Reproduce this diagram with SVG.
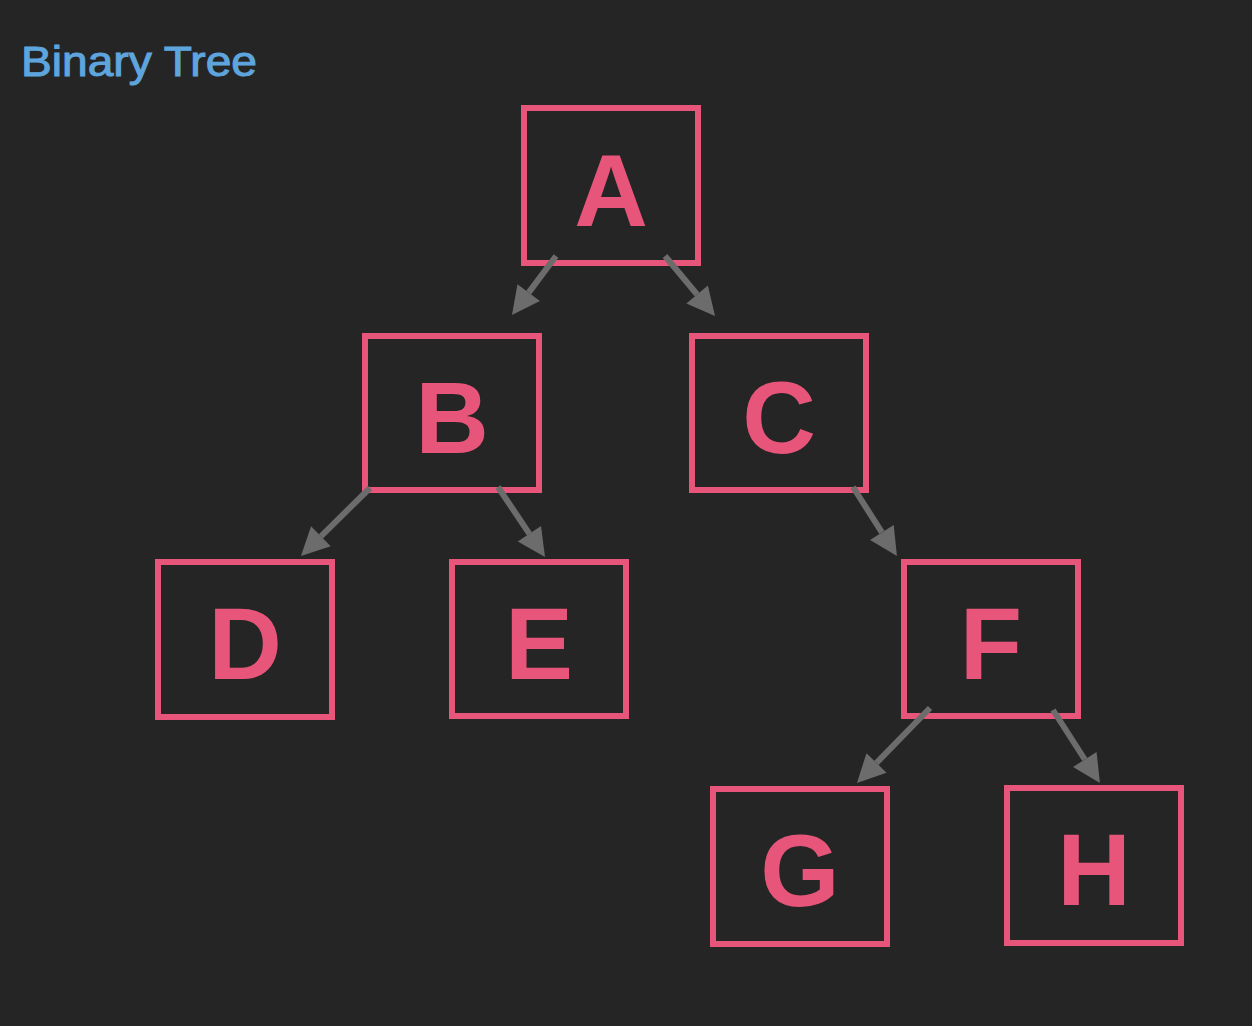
<svg xmlns="http://www.w3.org/2000/svg" width="1252" height="1026" viewBox="0 0 1252 1026">
<style>
.box{fill:#252525;stroke:#e8557a;stroke-width:6}
.lbl{font-family:"Liberation Sans",Arial,sans-serif;font-weight:bold;font-size:102px;fill:#e8557a;text-anchor:middle}
.edge{stroke:#6c6c6c;stroke-width:6;fill:none;marker-end:url(#ah)}
.title{font-family:"Liberation Sans",Arial,sans-serif;font-size:42px;fill:#5ea5de;stroke:#5ea5de;stroke-width:1}
</style>
<defs>
<marker id="ah" markerUnits="userSpaceOnUse" markerWidth="28" markerHeight="28" viewBox="0 0 28 28" refX="0" refY="14" orient="auto" overflow="visible">
<path d="M0,0 L28,14 L0,28 z" fill="#6c6c6c"/>
</marker>
</defs>
<rect width="1252" height="1026" fill="#252525"/>
<text class="title" x="21" y="76" textLength="236" lengthAdjust="spacingAndGlyphs">Binary Tree</text>
<g id="nodes">
<g id="A"><rect class="box" x="524" y="108" width="174" height="155"/><text class="lbl" x="611" y="226">A</text></g>
<g id="B"><rect class="box" x="365" y="336" width="174" height="154"/><text class="lbl" x="452" y="453">B</text></g>
<g id="C"><rect class="box" x="692" y="336" width="174" height="154"/><text class="lbl" x="779" y="453">C</text></g>
<g id="D"><rect class="box" x="158" y="562" width="174" height="155"/><text class="lbl" x="245" y="679">D</text></g>
<g id="E"><rect class="box" x="452" y="562" width="174" height="154"/><text class="lbl" x="539" y="679">E</text></g>
<g id="F"><rect class="box" x="904" y="562" width="174" height="154"/><text class="lbl" x="991" y="679">F</text></g>
<g id="G"><rect class="box" x="713" y="789" width="174" height="155"/><text class="lbl" x="800" y="906">G</text></g>
<g id="H"><rect class="box" x="1007" y="788" width="174" height="155"/><text class="lbl" x="1094" y="905">H</text></g>
</g>
<g id="connectors">
<line class="edge" x1="556" y1="256" x2="528.7" y2="292.6"/>
<line class="edge" x1="665" y1="256" x2="697.1" y2="294.5"/>
<line class="edge" x1="370" y1="488" x2="320.9" y2="536.3"/>
<line class="edge" x1="498" y1="487" x2="529.4" y2="533.8"/>
<line class="edge" x1="853" y1="487" x2="881.9" y2="532.4"/>
<line class="edge" x1="930" y1="708" x2="876.5" y2="762.9"/>
<line class="edge" x1="1053" y1="710" x2="1084.8" y2="759.5"/>
</g>
</svg>
